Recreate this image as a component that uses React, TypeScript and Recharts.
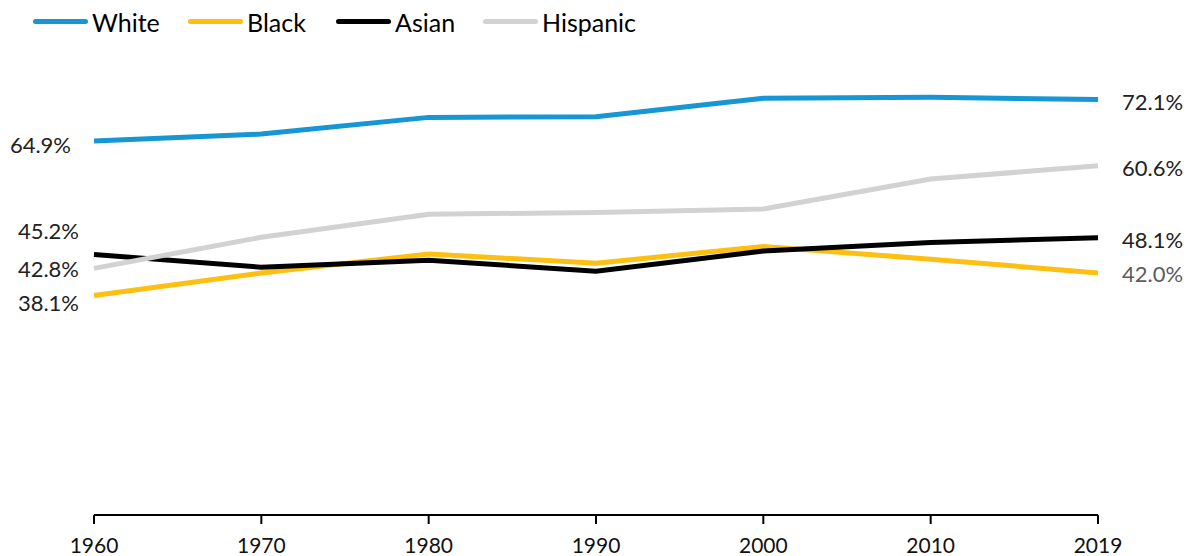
import { LineChart, Line, XAxis, YAxis, LabelList } from "recharts";

const years = ["1960", "1970", "1980", "1990", "2000", "2010", "2019"];
const white = [64.9, 66.1, 69.0, 69.1, 72.3, 72.5, 72.1];
const black = [38.1, 42.0, 45.3, 43.7, 46.6, 44.4, 42.0];
const asian = [45.2, 43.0, 44.2, 42.3, 45.8, 47.3, 48.1];
const hispanic = [42.8, 48.2, 52.2, 52.5, 53.1, 58.3, 60.6];

const data = years.map((year, i) => ({
  year,
  white: white[i],
  black: black[i],
  asian: asian[i],
  hispanic: hispanic[i],
}));

const FONT = "Lato, 'Noto Sans', sans-serif";

const series = [
  { key: "white", label: "White", color: "#1696d2", legendX: 33, left: { dx: -23, dy: 3 }, right: { dy: 2 }, rightColor: "#222" },
  { key: "black", label: "Black", color: "#fdbf11", legendX: 188, left: { dx: -15, dy: 7 }, right: { dy: 1 }, rightColor: "#5c5c5c" },
  { key: "asian", label: "Asian", color: "#000000", legendX: 336, left: { dx: -15, dy: -24 }, right: { dy: 2 }, rightColor: "#222" },
  { key: "hispanic", label: "Hispanic", color: "#d2d2d2", legendX: 483, left: { dx: -15, dy: 0 }, right: { dy: 2 }, rightColor: "#222" },
];

type Cfg = (typeof series)[number];

function makeEndLabel(cfg: Cfg) {
  // eslint-disable-next-line @typescript-eslint/no-explicit-any
  return function EndLabel(props: any) {
    const { x, y, index, value } = props;
    const last = years.length - 1;
    if (index !== 0 && index !== last) return null;
    const isLeft = index === 0;
    return (
      <text
        x={isLeft ? x + cfg.left.dx : x + 24}
        y={y + (isLeft ? cfg.left.dy : cfg.right.dy)}
        textAnchor={isLeft ? "end" : "start"}
        dominantBaseline="central"
        fontFamily={FONT}
        fontSize={22}
        fill={isLeft ? "#222" : cfg.rightColor}
      >
        {Number(value).toFixed(1)}%
      </text>
    );
  };
}

export default function App() {
  return (
    <div style={{ position: "absolute", left: 0, top: 0, width: 1191, height: 556, background: "#fff" }}>
      {/* Legend */}
      {series.map((s) => (
        <div
          key={s.key}
          style={{
            position: "absolute",
            left: s.legendX,
            top: 5,
            height: 33,
            display: "flex",
            alignItems: "center",
            fontFamily: FONT,
            fontSize: 25,
            color: "#000",
            whiteSpace: "nowrap",
          }}
        >
          <span
            style={{
              display: "inline-block",
              width: 55,
              height: 5,
              borderRadius: 3,
              background: s.color,
              marginRight: 4,
            }}
          />
          {s.label}
        </div>
      ))}

      <LineChart
        width={1191}
        height={556}
        data={data}
        margin={{ top: 54, right: 93, bottom: 11, left: 94 }}
      >
        <XAxis
          dataKey="year"
          height={30}
          tickSize={9}
          tickMargin={14}
          stroke="#000"
          strokeWidth={2}
          tick={{ fontSize: 21, fill: "#111", fontFamily: FONT }}
          interval={0}
        />
        <YAxis hide domain={[0, 80]} />
        {series.map((s) => (
          <Line
            key={s.key}
            type="linear"
            dataKey={s.key}
            stroke={s.color}
            strokeWidth={5}
            dot={false}
            activeDot={false}
            isAnimationActive={false}
          >
            <LabelList dataKey={s.key} content={makeEndLabel(s)} />
          </Line>
        ))}
      </LineChart>
    </div>
  );
}
